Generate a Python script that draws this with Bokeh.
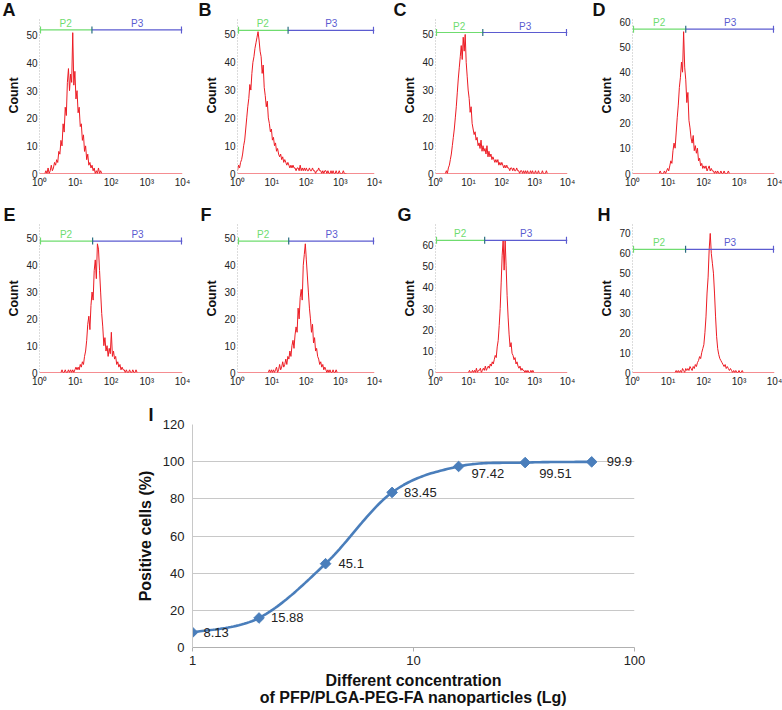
import numpy as np
from bokeh.plotting import figure
from bokeh.layouts import row, column
from bokeh.models import Range1d, FixedTicker, ColumnDataSource
from bokeh.embed import file_html
from bokeh.resources import INLINE
from bokeh.core.properties import value

FONT = "Liberation Sans"
FONT_VALUE = value(FONT)

# ---------------- flow cytometry histograms A-H ----------------
PANELS = ["A", "B", "C", "D", "E", "F", "G", "H"]
LOG_STEP = 0.03                      # channel spacing (decades) of the counts read below
X_MIN, X_MAX = 1, 10000
X_TICKS = [1, 10, 100, 1000, 10000]
X_TICK_LABELS = ["10⁰", "10¹", "10²", "10³", "10⁴"]
Y_TOP = [56.5, 56.1, 56.1, 61.6, 55.2, 55.2, 69.4, 74.5]
Y_TICK_MAX = [50, 50, 50, 60, 50, 50, 60, 70]
GATE_COUNT = [52, 51.5, 50.7, 57, 49, 49, 62, 62]
GATE_SPLIT_LOG = [1.467, 1.477, 1.433, 1.5, 1.486, 1.495, 1.49, 1.495]
GATE_NAMES = ["P2", "P3"]
START_LOG = [0.15, 0.0, 0.3, 0.75, 0.6, 0.9, 1.0, 1.2]

COUNTS_A = [0, 1, 0, 2, 0, 1, 3, 1, 2, 4, 3, 5, 4, 8, 7, 12, 10, 18, 15, 24, 21, 33, 38, 30, 36, 33,
            51, 32, 37, 27, 30, 22, 24, 17, 18, 12, 14, 8, 10, 5, 7, 3, 4, 2, 3, 1, 2, 0, 1, 0, 2, 0, 1, 0]
COUNTS_B = [1, 3, 2, 4, 5, 7, 10, 12, 16, 20, 24, 27, 32, 30, 36, 40, 42, 45, 47, 49, 51, 48, 44, 42, 36,
            39, 31, 28, 24, 26, 20, 18, 15, 16, 12, 13, 10, 11, 8, 9, 7, 6, 7, 5, 6, 4, 5, 4, 3, 4, 3, 2,
            3, 2, 3, 2, 2, 1, 2, 2, 1, 3, 1, 2, 1, 2, 1, 2, 1, 1, 2, 1, 1, 2, 1, 1, 0, 1, 1, 2, 1, 1, 0,
            1, 0, 1, 1, 0, 1, 0, 0, 1, 0, 1, 0, 0, 1, 0, 0, 1, 0, 0, 0, 1, 0, 0, 0]
COUNTS_C = [0, 1, 0, 2, 3, 5, 7, 10, 13, 16, 20, 24, 29, 34, 38, 42, 46, 41, 49, 44, 50, 40, 35, 30, 27,
            22, 24, 18, 16, 14, 15, 12, 13, 10, 11, 9, 12, 8, 10, 8, 9, 7, 10, 6, 8, 6, 7, 5, 6, 5, 4, 5,
            4, 5, 3, 4, 3, 4, 3, 2, 3, 2, 3, 2, 2, 1, 2, 2, 1, 2, 1, 1, 2, 1, 1, 0, 1, 1, 0, 1, 0, 1, 0,
            1, 0, 0, 1, 0, 1, 0, 0, 1, 0, 0, 1, 0, 0, 0, 1, 0, 0, 0, 1, 0]
COUNTS_D = [0, 1, 0, 0, 0, 1, 0, 1, 2, 1, 3, 5, 4, 9, 12, 10, 16, 22, 27, 34, 38, 44, 40, 56, 42, 37, 28,
            32, 21, 18, 14, 12, 15, 9, 11, 8, 10, 5, 6, 3, 4, 2, 3, 2, 3, 1, 2, 3, 1, 2, 1, 1, 0, 1, 0,
            1, 0, 0, 1, 0, 0, 1, 0, 0, 0, 1, 0]
COUNTS_E = [0, 1, 0, 0, 1, 0, 0, 1, 0, 1, 0, 1, 0, 1, 2, 1, 2, 1, 3, 2, 4, 3, 6, 8, 12, 18, 21, 16, 25,
            30, 27, 38, 42, 35, 48, 46, 38, 30, 22, 17, 10, 13, 8, 10, 6, 9, 7, 15, 6, 8, 5, 6, 3, 4, 2,
            3, 1, 2, 1, 1, 0, 1, 0, 0, 1, 0, 0, 1, 0, 0, 1, 0]
COUNTS_F = [0, 1, 0, 1, 0, 1, 0, 1, 2, 0, 1, 3, 1, 2, 4, 2, 3, 5, 3, 6, 5, 8, 6, 10, 12, 9, 14, 17, 15,
            24, 20, 28, 31, 27, 40, 44, 48, 42, 36, 30, 24, 20, 15, 18, 11, 13, 8, 9, 6, 5, 3, 4, 2, 3,
            1, 2, 1, 0, 1, 0, 1, 0, 0, 1, 0, 0, 1, 0]
COUNTS_G = [0, 1, 0, 0, 1, 0, 1, 0, 2, 0, 1, 1, 2, 0, 1, 2, 1, 3, 1, 2, 3, 2, 4, 3, 5, 4, 6, 8, 7, 12,
            15, 22, 30, 42, 55, 62, 48, 62, 50, 36, 26, 18, 12, 14, 9, 8, 6, 7, 4, 5, 3, 2, 3, 1, 2, 1,
            1, 0, 1, 0, 1, 0, 0, 1, 0, 1, 0]
COUNTS_H = [0, 1, 0, 1, 0, 1, 0, 2, 1, 0, 2, 1, 2, 1, 3, 2, 1, 3, 2, 4, 3, 5, 6, 8, 7, 10, 12, 14, 20,
            28, 40, 48, 62, 70, 60, 55, 50, 40, 28, 18, 12, 9, 7, 6, 5, 4, 3, 4, 2, 3, 2, 1, 2, 1, 0, 1,
            0, 1, 0, 0, 1, 0, 0, 1, 0]
ALL_COUNTS = [COUNTS_A, COUNTS_B, COUNTS_C, COUNTS_D, COUNTS_E, COUNTS_F, COUNTS_G, COUNTS_H]

# ---------------- panel I: dose response ----------------
CONCENTRATION = [1, 2, 4, 8, 16, 32, 64]
POSITIVE_PCT = [8.13, 15.88, 45.1, 83.45, 97.42, 99.51, 99.9]
POINT_LABELS = ["8.13", "15.88", "45.1", "83.45", "97.42", "99.51", "99.9"]
I_X_TICKS = [1, 10, 100]
I_X_TICK_LABELS = ["1", "10", "100"]
I_Y_TICKS = [0, 20, 40, 60, 80, 100, 120]

# ---------------- styles / geometry ----------------
RED = "#ec1c24"
GREEN = "#6fdc6f"
BLUE = "#5b5bd0"
CAP_MID = "#2a6f80"
LINE_BLUE = "#4a7ebb"

COL_W = [195, 195, 200, 192]           # figure widths
COL_L = [39, 42, 45, 42]               # frame left inside figure
COL_R = [13, 16, 23, 8]                # right border
ROW_H = [197, 199]
ROW_T = [16, 27]
ROW_B = 24
ROW_TITLE_STANDOFF = [-5, 0]
LETTER_DX = [[2, 3, 3, 2], [3, 5, 7, 7]]   # letter left from figure left


def style_title(p, offset, standoff):
    t = p.title
    t.align = "left"
    t.offset = offset
    t.standoff = standoff
    t.text_font = FONT
    t.text_font_style = "bold"
    t.text_font_size = "18px"
    t.text_color = "#111111"
    t.text_line_height = 1.0


def hist_panel(i, r, c):
    width, mbl, mbr = COL_W[c], COL_L[c], COL_R[c]
    height, mbt, mbb = ROW_H[r], ROW_T[r], ROW_B
    fw = width - mbl - mbr

    p = figure(width=width, height=height, x_axis_type="log",
               x_range=Range1d(X_MIN, X_MAX), y_range=Range1d(0, Y_TOP[i]),
               output_backend="svg", toolbar_location=None, title=PANELS[i],
               min_border_left=mbl, min_border_right=mbr,
               min_border_top=mbt, min_border_bottom=mbb)
    style_title(p, LETTER_DX[r][c] - mbl, ROW_TITLE_STANDOFF[r])
    p.outline_line_color = None
    p.grid.visible = False

    counts = np.array(ALL_COUNTS[i], dtype=float)
    logs = START_LOG[i] + LOG_STEP * np.arange(len(counts))
    p.line([X_MIN, X_MAX], [0, 0], line_color=RED, line_width=1)
    p.line(10 ** logs, counts, line_color=RED, line_width=1)

    g = GATE_COUNT[i]
    split = 10 ** GATE_SPLIT_LOG[i]
    edge = 10 ** (4.0 / fw)          # one pixel inside the frame edges
    p.segment(x0=[X_MIN, split], y0=[g, g], x1=[split, X_MAX], y1=[g, g],
              line_color=[GREEN, BLUE], line_width=1.2)
    p.scatter(x=[X_MIN * edge, split, X_MAX / edge], y=[g, g, g], marker="dash",
              angle=np.pi / 2, size=7, line_color=[GREEN, CAP_MID, BLUE], line_width=1.2)
    p.text(x=[10 ** (GATE_SPLIT_LOG[i] / 2), 10 ** ((GATE_SPLIT_LOG[i] + 4) / 2)], y=[g, g],
           text=GATE_NAMES, text_align="center", text_baseline="bottom", y_offset=-1,
           text_font_size="10px", text_color=[GREEN, BLUE], text_font=FONT_VALUE)

    xa = p.xaxis[0]
    xa.ticker = FixedTicker(ticks=X_TICKS, minor_ticks=[])
    xa.major_label_overrides = dict(zip(X_TICKS, X_TICK_LABELS))
    xa.axis_line_color = None
    xa.major_tick_line_color = None
    xa.major_tick_out = 0
    xa.major_label_standoff = 3
    xa.major_label_text_font = FONT
    xa.major_label_text_font_size = "10px"
    xa.major_label_text_color = "#222222"

    ya = p.yaxis[0]
    ya.ticker = FixedTicker(ticks=list(range(0, Y_TICK_MAX[i] + 1, 10)), minor_ticks=[])
    ya.axis_line_color = "#b8b8b8"
    ya.axis_line_dash = "1 2"
    ya.major_tick_line_color = None
    ya.major_tick_out = 0
    ya.major_label_standoff = 2
    ya.major_label_text_font = FONT
    ya.major_label_text_font_size = "10px"
    ya.major_label_text_color = "#222222"
    ya.axis_label = "Count"
    ya.axis_label_standoff = 2
    ya.axis_label_text_font = FONT
    ya.axis_label_text_font_style = "bold"
    ya.axis_label_text_font_size = "12.5px"
    ya.axis_label_text_color = "#111111"
    return p


row1 = [hist_panel(k, 0, k) for k in range(4)]
row2 = [hist_panel(k + 4, 1, k) for k in range(4)]


def smooth_curve(xs, ys, n=30):
    pts = np.column_stack([xs, ys])
    P = np.vstack([pts[0], pts, pts[-1]])
    segs = []
    for k in range(1, len(P) - 2):
        p0, p1, p2, p3 = P[k - 1], P[k], P[k + 1], P[k + 2]
        c1 = p1 + (p2 - p0) / 6.0
        c2 = p2 - (p3 - p1) / 6.0
        t = np.linspace(0, 1, n)[:, None]
        segs.append((1 - t) ** 3 * p1 + 3 * (1 - t) ** 2 * t * c1 + 3 * (1 - t) * t ** 2 * c2 + t ** 3 * p2)
    return np.vstack(segs)


I_W, I_H, I_L, I_R, I_T, I_B = 782, 314, 192, 148, 28, 63
pI = figure(width=I_W, height=I_H, x_axis_type="log", x_range=Range1d(1, 100),
            y_range=Range1d(0, 120), output_backend="svg", toolbar_location=None, title="I",
            min_border_left=I_L, min_border_right=I_R, min_border_top=I_T, min_border_bottom=I_B)
style_title(pI, 148 - 192, 0)
pI.outline_line_color = None
pI.xgrid.visible = False
pI.ygrid.grid_line_color = "#c8c8c8"
pI.ygrid.grid_line_width = 1

curve = smooth_curve(np.log10(CONCENTRATION), POSITIVE_PCT)
pI.line(10 ** curve[:, 0], curve[:, 1], line_color=LINE_BLUE, line_width=2.6)
src = ColumnDataSource(dict(x=CONCENTRATION, y=POSITIVE_PCT, lab=POINT_LABELS,
                            dx=[11, 12, 13, 12, 13, 14, 15], dy=[0, 0, 0, 0, 7, 11, 0]))
pI.scatter("x", "y", source=src, marker="square", angle=np.pi / 4, size=7.5,
           fill_color=LINE_BLUE, line_color=LINE_BLUE)
pI.text("x", "y", text="lab", source=src, x_offset="dx", y_offset="dy",
        text_baseline="middle", text_align="left", text_font=FONT_VALUE,
        text_font_size="13px", text_color="#222222")

xa = pI.xaxis[0]
xa.ticker = FixedTicker(ticks=I_X_TICKS, minor_ticks=[])
xa.major_label_overrides = dict(zip(I_X_TICKS, I_X_TICK_LABELS))
xa.axis_line_color = "#b0b0b0"
xa.major_tick_line_color = "#b0b0b0"
xa.major_tick_out = 4
xa.major_tick_in = 0
xa.major_label_standoff = 4
xa.major_label_text_font = FONT
xa.major_label_text_font_size = "13px"
xa.major_label_text_color = "#222222"
xa.axis_label = "Different concentration\nof PFP/PLGA-PEG-FA nanoparticles (Lg)"
xa.axis_label_standoff = 4
xa.axis_label_text_font = FONT
xa.axis_label_text_font_style = "bold"
xa.axis_label_text_font_size = "16px"
xa.axis_label_text_color = "#111111"
xa.axis_label_text_line_height = 1.0

ya = pI.yaxis[0]
ya.ticker = FixedTicker(ticks=I_Y_TICKS, minor_ticks=[])
ya.axis_line_color = "#c8c8c8"
ya.major_tick_line_color = None
ya.major_tick_out = 0
ya.major_label_standoff = 8
ya.major_label_text_font = FONT
ya.major_label_text_font_size = "13px"
ya.major_label_text_color = "#222222"
ya.axis_label = "Positive cells (%)"
ya.axis_label_standoff = 6
ya.axis_label_text_font = FONT
ya.axis_label_text_font_style = "bold"
ya.axis_label_text_font_size = "16px"
ya.axis_label_text_color = "#111111"

layout = column(row(*row1), row(*row2), pI)
open("out.html", "w").write(file_html(layout, INLINE))
